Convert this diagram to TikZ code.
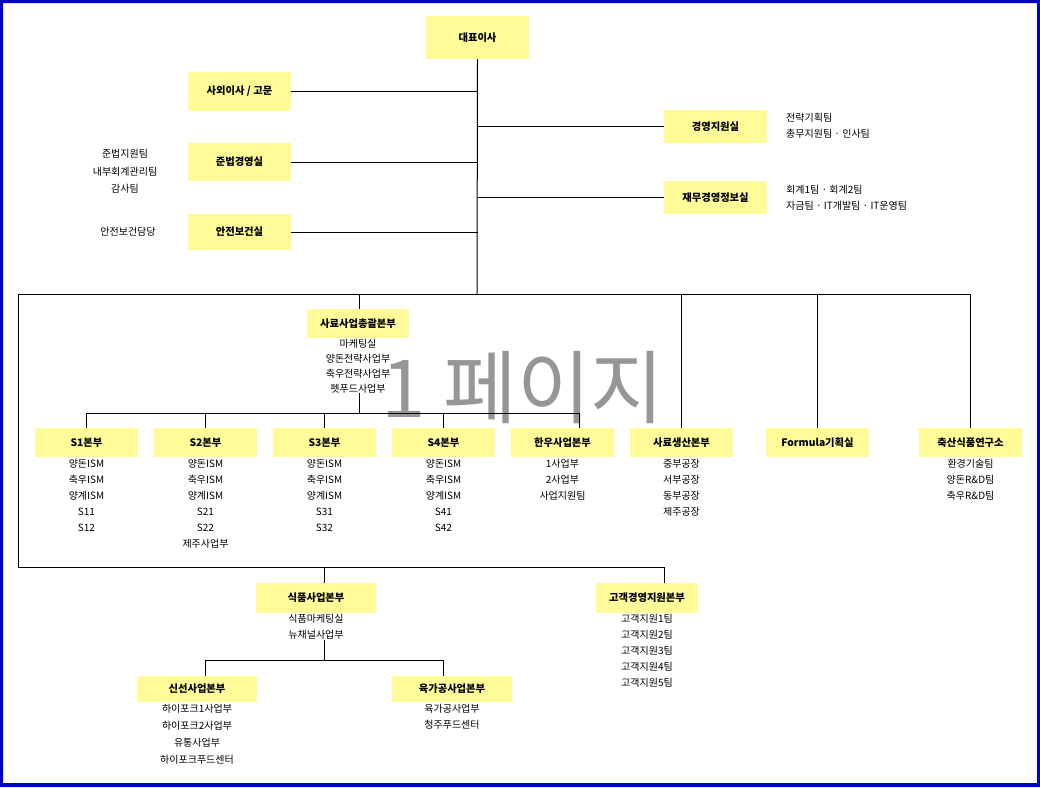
\documentclass[tikz,border=0pt]{standalone}
\usepackage{fontspec}
\setmainfont{Noto Sans CJK KR}
\definecolor{boxy}{RGB}{255,251,153}
\definecolor{frameblue}{RGB}{0,0,204}
\definecolor{wmgray}{RGB}{150,150,150}
\tikzset{
  ybox/.style={fill=boxy, inner sep=0pt, font=\fontsize{10.3}{12}\selectfont\bfseries,
    minimum width=103pt, minimum height=29pt},
  sublist/.style={inner sep=0pt, align=center, font=\fontsize{10}{16}\selectfont},
  leftlist/.style={inner sep=0pt, align=left, font=\fontsize{10}{16}\selectfont},
  conn/.style={draw=black, line width=1pt},
  wm/.style={text=wmgray, inner sep=0pt, font=\fontsize{80}{84}\selectfont},
}
\begin{document}
\begin{tikzpicture}[x=1pt,y=-1pt]
\useasboundingbox (0,0) rectangle (1040,787);
\fill[frameblue, even odd rule] (0,0) rectangle (1040,787) (3,3) rectangle (1037,783);

% watermark
\node[wm, anchor=base] (wm) at (523,417) {1 페이지};

% top level
\node[ybox, minimum height=43pt] (ceo) at (477.5,37.5) {대표이사};
\node[ybox, minimum height=39pt] (outdir) at (239.5,91.5) {사외이사 / 고문};
\node[ybox, minimum height=38pt] (comp) at (239.5,162) {준법경영실};
\node[ybox, minimum height=36pt] (safe) at (239.5,232) {안전보건실};
\node[ybox, minimum height=33pt] (mgmt) at (715.5,126.5) {경영지원실};
\node[ybox, minimum height=33pt] (fin) at (715.5,197.5) {재무경영정보실};

\node[leftlist, anchor=west] (mgmtl) at (786,126) {전략기획팀\\총무지원팀 · 인사팀};
\node[leftlist, anchor=west] (finl) at (786,197.5) {회계1팀 · 회계2팀\\자금팀 · IT개발팀 · IT운영팀};
\node[sublist, font=\fontsize{10}{17.5}\selectfont] (compl) at (125,171.5) {준법지원팀\\내부회계관리팀\\감사팀};
\node[sublist] (safel) at (128,232) {안전보건담당};

% feed division
\node[ybox, minimum width=102pt] (feed) at (358,323.5) {사료사업총괄본부};
\node[sublist, anchor=north, font=\fontsize{10}{15}\selectfont] (feedl) at (358,339) {마케팅실\\양돈전략사업부\\축우전략사업부\\펫푸드사업부};

% row
\node[ybox] (S1) at (86.5,442.5) {S1본부};
\node[ybox] (S2) at (205.5,442.5) {S2본부};
\node[ybox] (S3) at (324.5,442.5) {S3본부};
\node[ybox] (S4) at (443.5,442.5) {S4본부};
\node[ybox] (hanwoo) at (562.5,442.5) {한우사업본부};
\node[ybox] (prod) at (681.5,442.5) {사료생산본부};
\node[ybox] (formula) at (817.5,442.5) {Formula기획실};
\node[ybox] (lab) at (970.5,442.5) {축산식품연구소};

\node[sublist, anchor=north] (S1l) at (86.5,459) {양돈ISM\\축우ISM\\양계ISM\\S11\\S12};
\node[sublist, anchor=north] (S2l) at (205.5,459) {양돈ISM\\축우ISM\\양계ISM\\S21\\S22\\제주사업부};
\node[sublist, anchor=north] (S3l) at (324.5,459) {양돈ISM\\축우ISM\\양계ISM\\S31\\S32};
\node[sublist, anchor=north] (S4l) at (443.5,459) {양돈ISM\\축우ISM\\양계ISM\\S41\\S42};
\node[sublist, anchor=north] (hanwool) at (562.5,459) {1사업부\\2사업부\\사업지원팀};
\node[sublist, anchor=north] (prodl) at (681.5,459) {중부공장\\서부공장\\동부공장\\제주공장};
\node[sublist, anchor=north] (labl) at (970.5,459) {환경기술팀\\양돈R\&D팀\\축우R\&D팀};

% bottom
\node[ybox, minimum width=120pt, minimum height=30pt] (food) at (316,598) {식품사업본부};
\node[ybox, minimum width=102pt, minimum height=30pt] (cust) at (647,598) {고객경영지원본부};
\node[sublist, anchor=north] (foodl) at (316,614.5) {식품마케팅실\\뉴채널사업부};
\node[sublist, anchor=north] (custl) at (647,614.5) {고객지원1팀\\고객지원2팀\\고객지원3팀\\고객지원4팀\\고객지원5팀};

\node[ybox, minimum width=120pt, minimum height=26pt] (fresh) at (197,689) {신선사업본부};
\node[ybox, minimum width=120pt, minimum height=26pt] (meat) at (452,689) {육가공사업본부};
\node[sublist, anchor=north, font=\fontsize{10}{17}\selectfont] (freshl) at (197,704) {하이포크1사업부\\하이포크2사업부\\유통사업부\\하이포크푸드센터};
\node[sublist, anchor=north] (meatl) at (452,704) {육가공사업부\\청주푸드센터};

% connectors
\coordinate (bus) at (477,294);
\coordinate (busL) at (18,294);
\coordinate (busB) at (18,567);
\coordinate (sub) at (359,413);
\coordinate (fsub) at (324,660);

\draw[conn] (ceo.south) -- (bus);
\draw[conn] (outdir.east) -- (outdir.east -| ceo.south);
\draw[conn] (comp.east) -- (comp.east -| ceo.south);
\draw[conn] (safe.east) -- (safe.east -| ceo.south);
\draw[conn] (mgmt.west) -- (mgmt.west -| ceo.south);
\draw[conn] (fin.west) -- (fin.west -| ceo.south);

\draw[conn] (busB) -- (busL) -- (bus -| lab.north) -- (lab.north);
\draw[conn] ([xshift=1pt]feed.north) -- ([xshift=1pt]feed.north |- bus);
\draw[conn] (prod.north) -- (prod.north |- bus);
\draw[conn] (formula.north) -- (formula.north |- bus);

\draw[conn] (feedl.south -| sub) -- (sub);
\draw[conn] (S1.north) |- ([xshift=16.5pt]hanwoo.north |- sub) -- ([xshift=16.5pt]hanwoo.north);
\draw[conn] (S2.north) -- (S2.north |- sub);
\draw[conn] (S3.north) -- (S3.north |- sub);
\draw[conn] (S4.north) -- (S4.north |- sub);

\draw[conn] (busB) -| ([xshift=17pt]cust.north);
\draw[conn] ([xshift=8pt]food.north) -- ([xshift=8pt]food.north |- busB);
\draw[conn] (foodl.south -| fsub) -- (fsub);
\draw[conn] ([xshift=8pt]fresh.north) |- (fsub) -| ([xshift=-9pt]meat.north);
\end{tikzpicture}
\end{document}
